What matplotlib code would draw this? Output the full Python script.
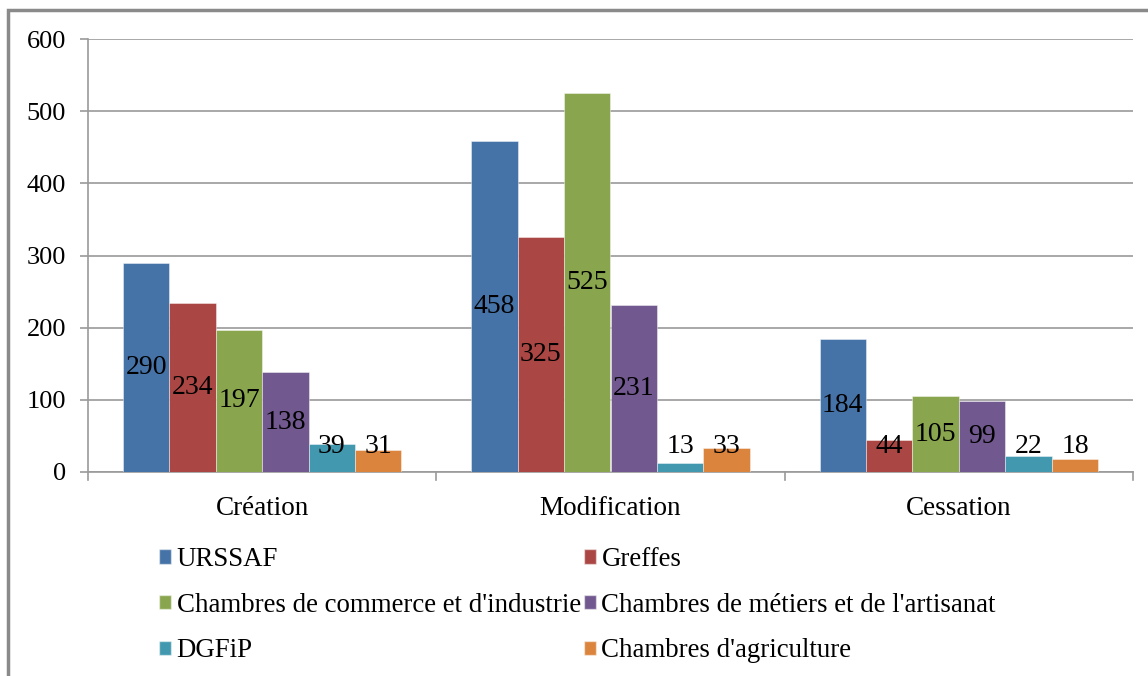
import matplotlib
matplotlib.use("Agg")
import matplotlib.pyplot as plt
from matplotlib.patches import Rectangle, Patch
import numpy as np

categories = ["Création", "Modification", "Cessation"]
series_names = ["URSSAF", "Greffes", "Chambres de commerce et d'industrie",
                "Chambres de métiers et de l'artisanat", "DGFiP", "Chambres d'agriculture"]
urssaf = [290, 458, 184]
greffes = [234, 325, 44]
cci = [197, 525, 105]
cma = [138, 231, 99]
dgfip = [39, 13, 22]
agri = [31, 33, 18]
values = [urssaf, greffes, cci, cma, dgfip, agri]
colors = ["#4572A7", "#AA4643", "#89A54E", "#71588F", "#4198AF", "#DB843D"]
yticks = [0, 100, 200, 300, 400, 500, 600]

plt.rcParams['font.family'] = ['Liberation Serif', 'DejaVu Serif']

W, H = 1148, 676
fig = plt.figure(figsize=(W / 100, H / 100), dpi=100)
ax = fig.add_axes([88 / W, 1 - 472 / H, (1133 - 88) / W, (472 - 39) / H])

n = len(values)
bw = 0.8 / n
x = np.arange(len(categories))
for i, (vals, c) in enumerate(zip(values, colors)):
    pos = x - 0.4 + bw * (i + 0.5)
    ax.bar(pos, vals, width=bw, color=c, edgecolor=(1, 1, 1, 0.5), linewidth=0.6, zorder=3)
    for p, v in zip(pos, vals):
        ax.text(p, max(v / 2, 36), str(v), ha='center', va='center', fontsize=20, color='black', zorder=4)

ax.set_xlim(-0.5, len(categories) - 0.5)
ax.set_ylim(0, 600)
ax.set_yticks(yticks)
ax.set_yticklabels([str(t) for t in yticks], fontsize=19)
ax.yaxis.grid(True, color='#9a9a9a', linewidth=1.2, zorder=0)
ax.set_axisbelow(True)
ax.set_xticks(x)
ax.set_xticklabels(categories, fontsize=19.5)
ax.tick_params(axis='x', length=0, pad=17.5)
ax.tick_params(axis='y', length=5.8, color='#9a9a9a', width=1.2, pad=10)
# category boundary ticks
for b in np.arange(len(categories) + 1) - 0.5:
    ax.plot([b, b], [0, -0.018], transform=ax.get_xaxis_transform(), color='#9a9a9a',
            linewidth=1.2, clip_on=False, zorder=5)
for s in ['top', 'right']:
    ax.spines[s].set_visible(False)
for s in ['left', 'bottom']:
    ax.spines[s].set_color('#9a9a9a')
    ax.spines[s].set_linewidth(1.2)

handles = [Patch(facecolor=c, edgecolor=(1, 1, 1, 0.5), label=nm) for c, nm in zip(colors, series_names)]
order = [0, 2, 4, 1, 3, 5]
leg = fig.legend(handles=[handles[i] for i in order], ncol=2, loc='upper left',
                 bbox_to_anchor=(159 / W, 1 - 547 / H),
                 frameon=False, fontsize=19.4, handlelength=0.45, handleheight=0.45, handletextpad=0.2,
                 columnspacing=0.12, labelspacing=0.77, borderaxespad=0, borderpad=0)

fig.patches.append(Rectangle((8 / W, -0.1), 1.2, 1 - 10 / H + 0.1, transform=fig.transFigure,
                             fill=False, edgecolor='#8a8a8a', linewidth=2.5))

fig.savefig("out.png", dpi=100)
